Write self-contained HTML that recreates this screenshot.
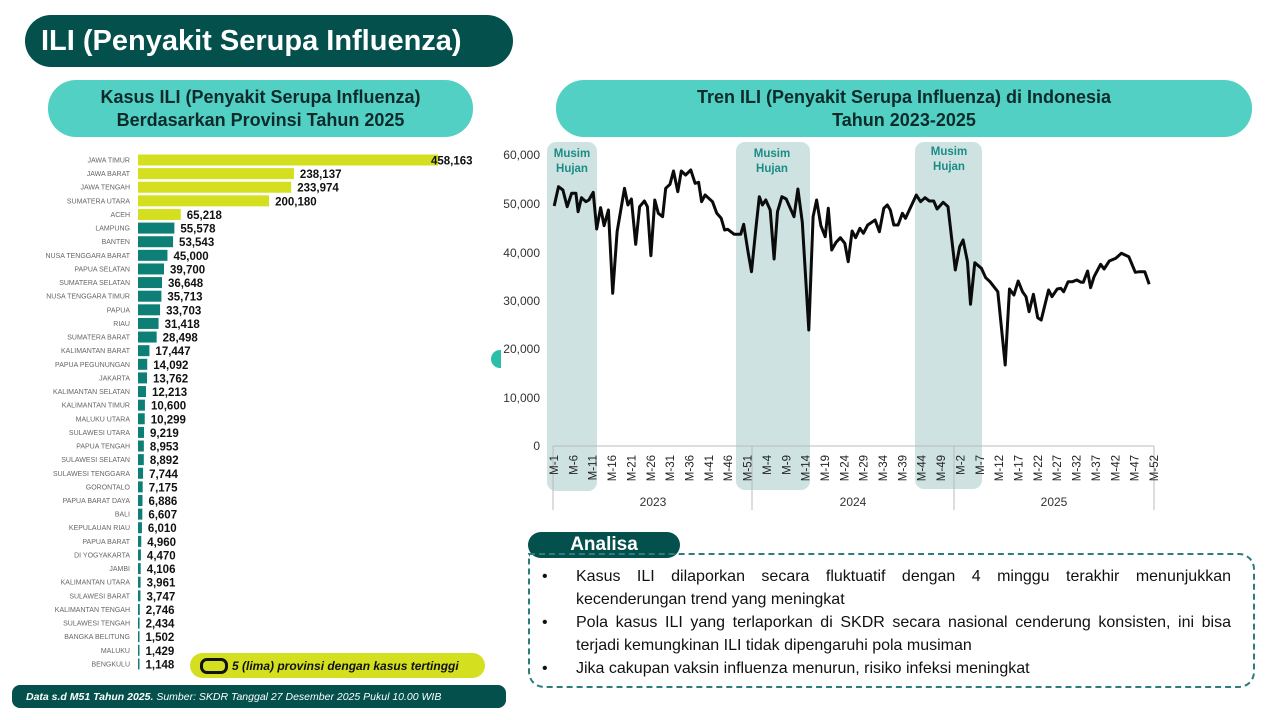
<!DOCTYPE html>
<html><head><meta charset="utf-8"><style>
body{margin:0;width:1280px;height:720px;background:#fff;position:relative;overflow:hidden;font-family:"Liberation Sans",sans-serif}
.abs{position:absolute}
.pill{position:absolute;border-radius:28px;display:flex;align-items:center;justify-content:center;text-align:center;font-weight:bold}
</style></head><body>
<div class="pill" style="left:25px;top:15px;width:488px;height:52px;background:#03504c;color:#fff;font-size:29px;justify-content:flex-start;padding-left:16px;box-sizing:border-box">ILI (Penyakit Serupa Influenza)</div>
<div class="pill" style="left:48px;top:80px;width:425px;height:57px;background:#52d0c4;color:#0d2b2b;font-size:18px;line-height:23px">Kasus ILI (Penyakit Serupa Influenza)<br>Berdasarkan Provinsi Tahun 2025</div>
<div class="pill" style="left:556px;top:80px;width:696px;height:57px;background:#52d0c4;color:#0d2b2b;font-size:18px;line-height:23px">Tren ILI (Penyakit Serupa Influenza) di Indonesia<br>Tahun 2023-2025</div>
<div class="abs" style="left:491px;top:350px;width:10px;height:18px;border-radius:9px 0 0 9px;background:#2bbfa8"></div>

<svg class="abs" style="left:0;top:0" width="1280" height="720" id="bars"></svg>

<div class="pill" style="left:190px;top:653px;width:295px;height:25px;background:#d4df1f;color:#111;font-size:12px;font-style:italic;border-radius:13px;justify-content:flex-start;padding-left:10px;box-sizing:border-box"><span style="display:inline-block;width:22px;height:10px;border:3px solid #111;border-radius:7px;margin-right:4px"></span>5 (lima) provinsi dengan kasus tertinggi</div>
<div class="pill" style="left:12px;top:685px;width:494px;height:23px;background:#03504c;color:#fff;font-size:10.5px;font-style:italic;font-weight:normal;border-radius:8px;justify-content:flex-start;padding-left:14px;box-sizing:border-box"><b>Data s.d M51 Tahun 2025.</b>&nbsp;Sumber: SKDR Tanggal 27 Desember 2025 Pukul 10.00 WIB</div>

<svg class="abs" style="left:0;top:0" width="1280" height="720" font-family="Liberation Sans, sans-serif">
<rect x="547" y="142" width="50" height="349" rx="9" fill="#cfe2e2"/>
<rect x="736" y="142" width="74" height="348" rx="9" fill="#cfe2e2"/>
<rect x="915" y="142" width="67" height="347" rx="9" fill="#cfe2e2"/>
<g fill="#1a8c84" font-weight="bold" font-size="11.5" text-anchor="middle">
<text x="572" y="157">Musim</text><text x="572" y="172">Hujan</text>
<text x="772" y="157">Musim</text><text x="772" y="172">Hujan</text>
<text x="949" y="155">Musim</text><text x="949" y="170">Hujan</text>
</g>
<g fill="#333" font-size="12" text-anchor="end">
<text x="540" y="159">60,000</text><text x="540" y="208">50,000</text><text x="540" y="257">40,000</text><text x="540" y="305">30,000</text><text x="540" y="353">20,000</text><text x="540" y="402">10,000</text><text x="540" y="450">0</text>
</g>
<g stroke="#bbb" stroke-width="1">
<line x1="553" y1="446" x2="1154" y2="446"/>
<line x1="553" y1="446" x2="553" y2="510"/><line x1="752" y1="446" x2="752" y2="510"/><line x1="954" y1="446" x2="954" y2="510"/><line x1="1154" y1="446" x2="1154" y2="510"/>
</g>
<g fill="#333" font-size="12" text-anchor="middle">
<text x="653" y="506">2023</text><text x="853" y="506">2024</text><text x="1054" y="506">2025</text>
</g>
<g fill="#222" font-size="11.5" text-anchor="end" id="ticks"></g>
<polyline id="ln" fill="none" stroke="#0b0b0b" stroke-width="3" stroke-linejoin="round" points=""/>
</svg>

<div class="pill" style="left:528px;top:532px;width:152px;height:26px;background:#03504c;color:#fff;font-size:19px;border-radius:13px">Analisa</div>
<div class="abs" style="left:528px;top:553px;width:727px;height:135px;box-sizing:border-box;border:2.5px dashed #2e7d7d;border-radius:16px;border-top-left-radius:0;padding:10px 22px 0 46px;font-size:16px;color:#111;line-height:23px;text-align:justify">
<div style="position:relative"><span class="abs" style="left:-34px">•</span>Kasus ILI dilaporkan secara fluktuatif dengan 4 minggu terakhir menunjukkan kecenderungan trend yang meningkat</div>
<div style="position:relative"><span class="abs" style="left:-34px">•</span>Pola kasus ILI yang terlaporkan di SKDR secara nasional cenderung konsisten, ini bisa terjadi kemungkinan ILI tidak dipengaruhi pola musiman</div>
<div style="position:relative"><span class="abs" style="left:-34px">•</span>Jika cakupan vaksin influenza menurun, risiko infeksi meningkat</div>
</div>

<script>
var d=[["JAWA TIMUR",458163],["JAWA BARAT",238137],["JAWA TENGAH",233974],["SUMATERA UTARA",200180],["ACEH",65218],["LAMPUNG",55578],["BANTEN",53543],["NUSA TENGGARA BARAT",45000],["PAPUA SELATAN",39700],["SUMATERA SELATAN",36648],["NUSA TENGGARA TIMUR",35713],["PAPUA",33703],["RIAU",31418],["SUMATERA BARAT",28498],["KALIMANTAN BARAT",17447],["PAPUA PEGUNUNGAN",14092],["JAKARTA",13762],["KALIMANTAN SELATAN",12213],["KALIMANTAN TIMUR",10600],["MALUKU UTARA",10299],["SULAWESI UTARA",9219],["PAPUA TENGAH",8953],["SULAWESI SELATAN",8892],["SULAWESI TENGGARA",7744],["GORONTALO",7175],["PAPUA BARAT DAYA",6886],["BALI",6607],["KEPULAUAN RIAU",6010],["PAPUA BARAT",4960],["DI YOGYAKARTA",4470],["JAMBI",4106],["KALIMANTAN UTARA",3961],["SULAWESI BARAT",3747],["KALIMANTAN TENGAH",2746],["SULAWESI TENGAH",2434],["BANGKA BELITUNG",1502],["MALUKU",1429],["BENGKULU",1148]];
var s='';
d.forEach(function(r,i){var y=160+i*13.62,w=Math.max(1.5,r[1]*300/458163);
s+='<text x="130" y="'+(y+2.5)+'" font-size="7" fill="#666" text-anchor="end" font-family="Liberation Sans,sans-serif">'+r[0]+'</text>';
s+='<rect x="138" y="'+(y-5.5)+'" width="'+w+'" height="11" fill="'+(i<5?'#d4df1f':'#0e7f76')+'"/>';
var tx=i==0?431:138+w+6;
s+='<text x="'+tx+'" y="'+(y+4.5)+'" font-size="11.5" font-weight="bold" fill="#111" font-family="Liberation Sans,sans-serif">'+r[1].toLocaleString('en-US')+'</text>';});
document.getElementById('bars').innerHTML=s;
var t='',wk=[];
[1,6,11,16,21,26,31,36,41,46,51].forEach(function(n){wk.push(['M-'+n,0,n]);});
[4,9,14,19,24,29,34,39,44,49].forEach(function(n){wk.push(['M-'+n,1,n]);});
[2,7,12,17,22,27,32,37,42,47,52].forEach(function(n){wk.push(['M-'+n,2,n]);});
wk.forEach(function(w){var idx=w[1]*52+w[2]-1;var x=554+idx*600/155;
t+='<text transform="translate('+(x+4)+' 455) rotate(-90)">'+w[0]+'</text>';});
document.getElementById('ticks').innerHTML=t;
var p="125,213 135,155 145,165 155,215 165,175 175,175 180,230 188,188 198,200 205,195 215,172 223,282 232,218 240,272 250,225 260,475 270,290 287,160 295,210 303,192 313,328 322,215 333,198 340,215 348,362 357,195 365,235 375,245 382,160 392,148 400,108 410,170 418,108 428,120 440,105 450,145 458,142 465,200 473,180 490,200 500,235 510,250 518,285 525,283 540,298 555,298 562,268 572,350 580,410 590,280 598,185 605,210 613,195 623,225 632,372 640,230 650,185 660,192 678,245 687,162 697,262 712,585 722,245 730,195 740,272 750,305 757,220 765,345 775,322 785,308 795,325 803,380 812,288 820,308 830,280 838,295 848,270 865,255 875,290 885,220 893,210 900,225 908,270 918,270 928,235 935,250 960,180 970,200 980,188 990,198 1000,198 1008,222 1022,202 1033,215 1050,405 1060,335 1068,315 1078,380 1085,508 1095,383 1110,400 1120,428 1130,440 1148,470 1165,690 1175,462 1185,480 1195,438 1205,470 1213,485 1220,530 1230,478 1240,548 1248,555 1265,465 1273,485 1285,462 1293,460 1300,470 1310,440 1320,440 1330,435 1340,442 1345,442 1355,408 1362,458 1370,425 1385,388 1393,402 1405,378 1420,370 1433,355 1450,365 1465,412 1475,410 1487,410 1497,448".split(' ').map(function(q){var a=q.split(',');return (500+a[0]/2.306).toFixed(1)+','+(135+a[1]/3).toFixed(1);}).join(' ');
document.getElementById('ln').setAttribute('points',p);
</script>
</body></html>
